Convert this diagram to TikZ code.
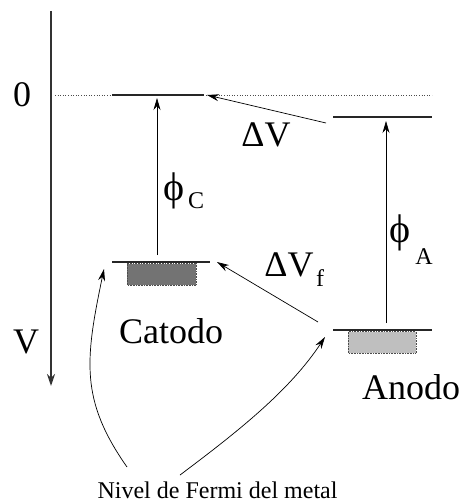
\documentclass[tikz,border=0pt]{standalone}
\usepackage{fontspec}
\setmainfont{Liberation Serif}
\usetikzlibrary{arrows.meta}
\tikzset{
  big/.style={font=\fontsize{36}{38}\selectfont, inner sep=0pt},
  phi/.style={font=\fontsize{40}{42}\selectfont, inner sep=0pt},
  subs/.style={font=\fontsize{24}{26}\selectfont, inner sep=0pt},
  small/.style={font=\fontsize{24}{26}\selectfont, inner sep=0pt},
  level/.style={line width=1.4pt, black!85},
  arr/.style={line width=0.7pt, -{Stealth[length=12pt,width=7pt]}},
  dots/.style={dotted, line width=0.6pt, black!70},
  box/.style={densely dotted, line width=0.6pt, draw=black!70}
}
\begin{document}
\begin{tikzpicture}[x=1pt,y=-1pt]
\useasboundingbox (0,0) rectangle (461,502);
% axis
\coordinate (atop) at (51,11);
\coordinate (abot) at (51,386);
\draw[line width=1.8pt, black!80, -{Stealth[length=12pt,width=8pt]}] (atop) -- (abot);
\node[big] (zero) at (22,95) {0};
\node[big] (V) at (26,342) {V};
% vacuum level dotted
\coordinate (d0) at (55,95);
\coordinate (d1) at (432,95);
\draw[dots] (d0) -- (d1);
% cathode levels
\coordinate (cv0) at (112,95);
\coordinate (cv1) at (204,95);
\draw[level] (cv0) -- (cv1);
\coordinate (cf0) at (112,262);
\coordinate (cf1) at (210,262);
\fill[black!55] (127,263.5) rectangle (196,285);
\draw[box] (127,263.5) rectangle (196,285);
\draw[level] (cf0) -- (cf1);
% anode levels
\coordinate (av0) at (333,117);
\coordinate (av1) at (432,117);
\draw[level] (av0) -- (av1);
\coordinate (af0) at (333,330);
\coordinate (af1) at (432,330);
\fill[black!25] (348,331.5) rectangle (416,353);
\draw[box] (348,331.5) rectangle (416,353);
\draw[level] (af0) -- (af1);
% phi arrows
\coordinate (pc0) at (157,255);
\coordinate (pc1) at (157,98);
\draw[arr] (pc0) -- (pc1);
\node[phi] (phic) at (174,191) {ϕ};
\node[subs] (phicsub) at (196,201) {C};
\coordinate (pa0) at (386,323);
\coordinate (pa1) at (386,121);
\draw[arr] (pa0) -- (pa1);
\node[phi] (phia) at (400,233) {ϕ};
\node[subs] (phiasub) at (424,257) {A};
% Delta V arrows
\coordinate (dv0) at (326,123);
\coordinate (dv1) at (207,95);
\draw[arr] (dv0) -- (dv1);
\node[big] (dV) at (266,135) {ΔV};
\coordinate (df0) at (318,322);
\coordinate (df1) at (217,262);
\draw[arr] (df0) -- (df1);
\node[big] (dVf) at (289,265) {ΔV};
\node[subs] (dVfsub) at (320,278) {f};
% labels
\node[big] (cat) at (171,331) {Catodo};
\node[big] (ano) at (411,387) {Anodo};
\node[small] (nivel) at (217.5,490) {Nivel de Fermi del metal};
% curved arrows
\coordinate (n0) at (127,467);
\coordinate (n1) at (104,269);
\draw[arr] (n0) .. controls (80,400) and (85,360) .. (n1);
\coordinate (m0) at (180,475);
\coordinate (m1) at (325,337);
\draw[arr] (m0) .. controls (240,430) and (290,390) .. (m1);
\end{tikzpicture}
\end{document}
